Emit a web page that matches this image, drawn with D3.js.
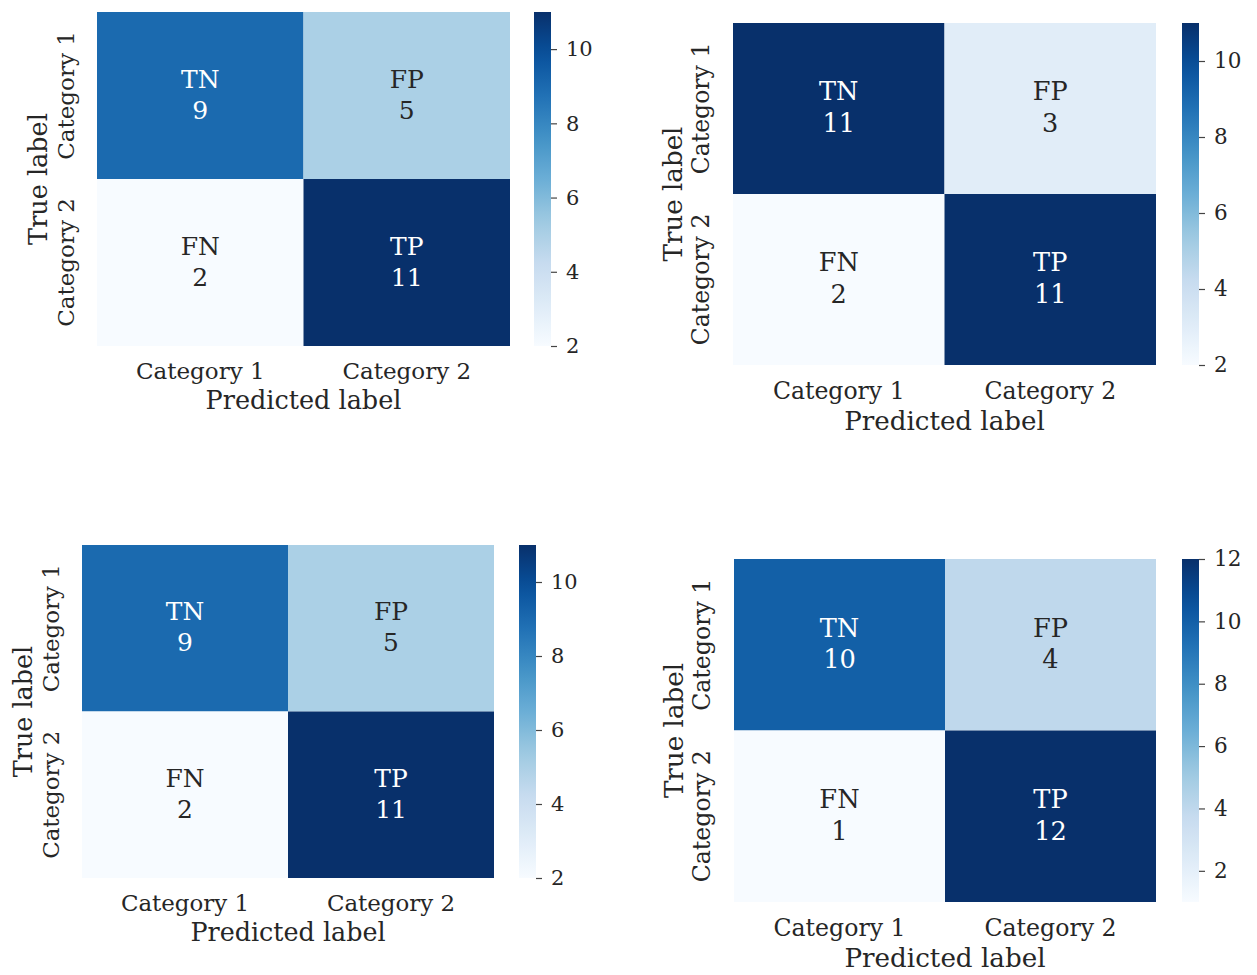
<!DOCTYPE html>
<html>
<head>
<meta charset="utf-8">
<script src="https://cdn.jsdelivr.net/npm/d3@7"></script>
<style>
  html, body { margin: 0; padding: 0; background: #ffffff; }
  svg { display: block; }
  text { font-family: "DejaVu Serif", serif; fill: #262626; }
</style>
</head>
<body>
<svg id="chart" width="1257" height="975"></svg>
<script>
// Confusion-matrix data for four runs
const categories = ["Category 1", "Category 2"];
const cellNames = [["TN", "FP"], ["FN", "TP"]];
const matrixA = [[9, 5], [2, 11]];
const matrixB = [[11, 3], [2, 11]];
const matrixC = [[9, 5], [2, 11]];
const matrixD = [[10, 4], [1, 12]];
const ticksA = [2, 4, 6, 8, 10];
const ticksB = [2, 4, 6, 8, 10];
const ticksC = [2, 4, 6, 8, 10];
const ticksD = [2, 4, 6, 8, 10, 12];

// Panel frames (heatmap box + colorbar column)
const panels = [
  { m: matrixA, ticks: ticksA, x: 97,  y: 12,  w: 413, h: 334, cbx: 534 },
  { m: matrixB, ticks: ticksB, x: 733, y: 23,  w: 423, h: 342, cbx: 1182 },
  { m: matrixC, ticks: ticksC, x: 82,  y: 545, w: 412, h: 333, cbx: 519 },
  { m: matrixD, ticks: ticksD, x: 734, y: 559, w: 422, h: 343, cbx: 1182 }
];

// Matplotlib-style "Blues": linear segments through the Brewer stops
const bluesStops = ["#f7fbff", "#deebf7", "#c6dbef", "#9ecae1", "#6baed6",
                    "#4292c6", "#2171b5", "#08519c", "#08306b"];
const blues = d3.piecewise(d3.interpolateRgb, bluesStops);

const svg = d3.select("#chart");
const defs = svg.append("defs");

panels.forEach((p, i) => {
  const k = p.h / 334;            // relative size of this subplot
  const flat = p.m.flat();
  const vmin = d3.min(flat), vmax = d3.max(flat);
  const color = d3.scaleSequential(blues).domain([vmin, vmax]);

  const xs = d3.scaleBand().domain(categories).range([0, p.w]);
  const ys = d3.scaleBand().domain(categories).range([0, p.h]);

  const g = svg.append("g").attr("transform", `translate(${p.x},${p.y})`);

  const cells = [];
  p.m.forEach((row, r) => row.forEach((v, c) => cells.push({ r, c, v, name: cellNames[r][c] })));

  g.selectAll("rect.cell").data(cells).join("rect")
    .attr("class", "cell")
    .attr("x", d => xs(categories[d.c]))
    .attr("y", d => ys(categories[d.r]))
    .attr("width", xs.bandwidth())
    .attr("height", ys.bandwidth())
    .attr("fill", d => color(d.v));

  // Annotations: light text on dark cells, dark text on light cells
  const ann = g.selectAll("text.ann").data(cells).join("text")
    .attr("class", "ann")
    .attr("text-anchor", "middle")
    .attr("font-size", 25 * k)
    .style("fill", d => d3.hsl(color(d.v)).l < 0.5 ? "#ffffff" : "#262626");
  ann.append("tspan")
    .attr("x", d => xs(categories[d.c]) + xs.bandwidth() / 2)
    .attr("y", d => ys(categories[d.r]) + ys.bandwidth() / 2 - 8 * k)
    .text(d => d.name);
  ann.append("tspan")
    .attr("x", d => xs(categories[d.c]) + xs.bandwidth() / 2)
    .attr("y", d => ys(categories[d.r]) + ys.bandwidth() / 2 + 23 * k)
    .text(d => d.v);

  // Category tick labels along the bottom
  const xAxis = d3.axisBottom(xs).tickSize(0).tickPadding(0);
  const xg = g.append("g").attr("transform", `translate(0,${p.h})`).call(xAxis);
  xg.select(".domain").remove();
  xg.selectAll("text")
    .attr("font-size", 23 * k).attr("font-family", "DejaVu Serif").style("fill", "#262626")
    .attr("dy", 0).attr("y", 33 * k);

  // Category tick labels down the side, rotated about their centres
  const yAxis = d3.axisLeft(ys).tickSize(0).tickPadding(0);
  const yg = g.append("g").call(yAxis);
  yg.select(".domain").remove();
  yg.selectAll(".tick text")
    .attr("font-size", 23 * k).attr("font-family", "DejaVu Serif").style("fill", "#262626")
    .attr("text-anchor", "middle")
    .attr("dy", 0)
    .attr("transform", "rotate(-90)")
    .attr("x", 0).attr("y", -23 * k);

  g.append("text")
    .attr("x", p.w / 2).attr("y", p.h + 63 * k)
    .attr("text-anchor", "middle").attr("font-size", 25.5 * k)
    .text("Predicted label");
  g.append("text")
    .attr("transform", `translate(${-50 * k},${p.h / 2}) rotate(-90)`)
    .attr("text-anchor", "middle").attr("font-size", 25.5 * k)
    .text("True label");

  // Colorbar
  const gradId = "cbar" + i;
  const grad = defs.append("linearGradient").attr("id", gradId)
    .attr("x1", 0).attr("y1", 1).attr("x2", 0).attr("y2", 0);
  d3.range(0, 1.0001, 0.05).forEach(t => {
    grad.append("stop").attr("offset", t).attr("stop-color", blues(t));
  });
  const cbW = 17;
  const cs = d3.scaleLinear().domain([vmin, vmax]).range([p.y + p.h, p.y]);
  svg.append("rect")
    .attr("x", p.cbx).attr("y", p.y).attr("width", cbW).attr("height", p.h)
    .attr("fill", `url(#${gradId})`);
  const cAxis = d3.axisRight(cs).tickValues(p.ticks).tickSize(6).tickPadding(9).tickFormat(d3.format("d"));
  const cg = svg.append("g").attr("transform", `translate(${p.cbx + cbW},0)`).call(cAxis);
  cg.select(".domain").remove();
  cg.selectAll("line").attr("stroke", "#444").attr("stroke-width", 1.2);
  cg.selectAll("text").attr("font-size", 21 * k).attr("font-family", "DejaVu Serif").style("fill", "#262626");
});
</script>
</body>
</html>
